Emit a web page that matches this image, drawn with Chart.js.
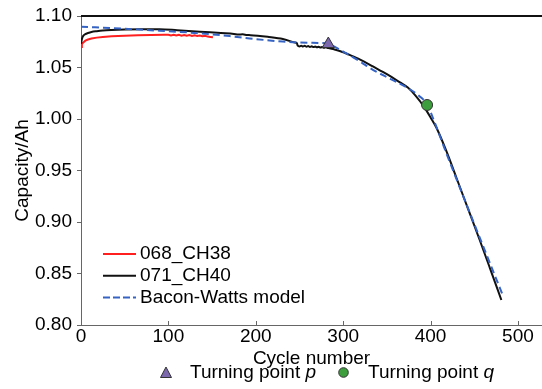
<!DOCTYPE html>
<html>
<head>
<meta charset="utf-8">
<script src="https://cdn.jsdelivr.net/npm/chart.js@4.4.1/dist/chart.umd.min.js"></script>
<style>
  html, body { margin: 0; padding: 0; background: #fff; }
  #wrap { width: 542px; height: 389px; position: relative; }
</style>
</head>
<body>
<div id="wrap"><canvas id="c" width="542" height="389"></canvas></div>
<script>
// ---- data ----
const redCycles = [0,1,2,3,5,8,12,18,25,35,50,65,80,95,100,103,106,109,112,115,118,121,124,127,130,133,136,139,142,145,148,151];
const redCap    = [1.0700,1.0725,1.0738,1.0746,1.0760,1.0772,1.0781,1.0790,1.0797,1.0803,1.0808,1.0813,1.0816,1.0818,1.0818,1.0811,1.0818,1.0810,1.0817,1.0809,1.0816,1.0808,1.0815,1.0807,1.0813,1.0805,1.0811,1.0803,1.0808,1.0800,1.0797,1.0793];

const blackCycles = [0,1,2,3,5,8,12,18,25,35,50,70,90,110,136,160,175,180,185,190,194,215,231,246,247,248,250,252,254,256,258,260,262,264,266,268,270,272,274,276,278,280,283,290,296,308,320,334,350,365,374,383,392,400,407,418,430,443,456,468,481];
const blackCap    = [1.0730,1.0775,1.0800,1.0812,1.0825,1.0835,1.0845,1.0853,1.0860,1.0865,1.0869,1.0871,1.0871,1.0862,1.0848,1.0834,1.0826,1.0820,1.0822,1.0815,1.0814,1.0796,1.0776,1.0740,1.0737,1.0712,1.0705,1.0711,1.0704,1.0710,1.0702,1.0708,1.0700,1.0706,1.0698,1.0704,1.0696,1.0702,1.0694,1.0699,1.0691,1.0696,1.0688,1.0675,1.0660,1.0620,1.0575,1.0510,1.0435,1.0355,1.0305,1.0225,1.0125,1.0015,0.9910,0.9690,0.9420,0.9125,0.8830,0.8550,0.8243];

const bwCycles = [0,50,90,136,170,193,231,260,283,290,308,319,334,355,373,388,396,405,418,443,483];
const bwCap    = [1.0896,1.0876,1.0857,1.0832,1.0805,1.0782,1.0752,1.0740,1.0733,1.0702,1.0615,1.0560,1.0478,1.0385,1.0305,1.0217,1.0140,0.9960,0.9670,0.9130,0.8280];

const turnP = {cycle: 283, cap: 1.0728};
const turnQ = {cycle: 396, cap: 1.0136};

const seriesNames = ['068_CH38', '071_CH40', 'Bacon-Watts model'];
const markerNames = ['Turning point ', 'Turning point '];
const markerVars  = ['p', 'q'];

const xTicks = [0,100,200,300,400,500];
const yTicks = [0.80,0.85,0.90,0.95,1.00,1.05,1.10];

const zip = (xs, ys) => xs.map((x, i) => ({x: x, y: ys[i]}));

const FONT = "'Liberation Sans', Arial, sans-serif";
const RED = '#ff1f1f', BLACK = '#111111', BLUE = '#3563c4';
const PURPLE = '#7c68ad', GREEN = '#3d9e3d';

const decorPlugin = {
  id: 'decor',
  afterDraw(chart) {
    const ctx = chart.ctx;
    const xs = chart.scales.x;
    const a = chart.chartArea;
    ctx.save();
    // inside x ticks
    ctx.strokeStyle = '#666';
    ctx.lineWidth = 1;
    xTicks.forEach(v => {
      const px = Math.round(xs.getPixelForValue(v)) + 0.5;
      ctx.beginPath(); ctx.moveTo(px, a.bottom); ctx.lineTo(px, a.bottom - 4); ctx.stroke();
    });
    // top frame line
    ctx.strokeStyle = '#111';
    ctx.lineWidth = 2;
    ctx.beginPath(); ctx.moveTo(a.left, a.top); ctx.lineTo(a.right, a.top); ctx.stroke();

    // in-plot legend
    ctx.font = '19px ' + FONT;
    ctx.textBaseline = 'middle';
    ctx.textAlign = 'left';
    ctx.fillStyle = '#000';
    const ly = [254, 275.7, 297.4];
    const cols = [RED, BLACK, BLUE];
    seriesNames.forEach((n, i) => {
      ctx.strokeStyle = cols[i];
      ctx.lineWidth = 2;
      ctx.setLineDash(i === 2 ? [7, 3] : []);
      ctx.beginPath(); ctx.moveTo(103, ly[i]); ctx.lineTo(136, ly[i]); ctx.stroke();
      ctx.setLineDash([]);
      ctx.fillText(n, 140, ly[i]);
    });

    // bottom legend
    const by = 373;
    ctx.fillStyle = PURPLE; ctx.strokeStyle = '#333'; ctx.lineWidth = 1;
    ctx.beginPath();
    ctx.moveTo(166, by - 6); ctx.lineTo(171.5, by + 4.5); ctx.lineTo(160.5, by + 4.5); ctx.closePath();
    ctx.fill(); ctx.stroke();
    ctx.fillStyle = GREEN;
    ctx.beginPath(); ctx.arc(343.5, by - 0.5, 4.8, 0, Math.PI * 2); ctx.fill(); ctx.stroke();
    ctx.fillStyle = '#000';
    const tx = [190, 368];
    markerNames.forEach((n, i) => {
      ctx.font = '19px ' + FONT;
      ctx.fillText(n, tx[i], by);
      const w = ctx.measureText(n).width;
      ctx.font = 'italic 19px ' + FONT;
      ctx.fillText(markerVars[i], tx[i] + w, by);
    });
    ctx.restore();
  }
};

new Chart(document.getElementById('c'), {
  type: 'line',
  data: {
    datasets: [
      { label: seriesNames[0], data: zip(redCycles, redCap), borderColor: RED, borderWidth: 2, pointRadius: 0, tension: 0, order: 4 },
      { label: seriesNames[1], data: zip(blackCycles, blackCap), borderColor: BLACK, borderWidth: 2, pointRadius: 0, cubicInterpolationMode: 'monotone', order: 3 },
      { label: seriesNames[2], data: zip(bwCycles, bwCap), borderColor: BLUE, borderWidth: 2, borderDash: [7, 4], pointRadius: 0, cubicInterpolationMode: 'monotone', order: 2 },
      { label: 'p', data: [{x: turnP.cycle, y: turnP.cap}], showLine: false, pointStyle: 'triangle', pointRadius: 7, backgroundColor: PURPLE, borderColor: '#333', borderWidth: 1, order: 1 },
      { label: 'q', data: [{x: turnQ.cycle, y: turnQ.cap}], showLine: false, pointStyle: 'circle', pointRadius: 5.5, backgroundColor: GREEN, borderColor: '#333', borderWidth: 1, order: 0 }
    ]
  },
  options: {
    responsive: false,
    animation: false,
    devicePixelRatio: 1,
    layout: { autoPadding: false, padding: { top: 16, right: 0, left: 0, bottom: 0 } },
    plugins: { legend: { display: false }, tooltip: { enabled: false } },
    scales: {
      x: {
        type: 'linear', min: 0, max: 527.5,
        afterFit(s) { s.height = 64; s.paddingLeft = 0; s.paddingRight = 0; },
        afterBuildTicks(s) { s.ticks = xTicks.map(v => ({value: v})); },
        grid: { display: false, drawTicks: false },
        border: { display: true, color: '#666', width: 1 },
        ticks: { font: { family: FONT, size: 19 }, color: '#000', padding: 0, maxRotation: 0 },
        title: { display: true, text: 'Cycle number', font: { family: FONT, size: 19 }, color: '#000', padding: { top: 0, bottom: 19 } }
      },
      y: {
        type: 'linear', min: 0.8, max: 1.1,
        afterFit(s) { s.width = 81; s.paddingTop = 0; s.paddingBottom = 0; },
        afterBuildTicks(s) { s.ticks = yTicks.map(v => ({value: v})); },
        grid: { display: true, drawOnChartArea: false, drawTicks: true, tickLength: 4, color: '#666' },
        border: { display: true, color: '#666', width: 1 },
        ticks: { font: { family: FONT, size: 19 }, color: '#000', padding: 5, callback: v => v.toFixed(2) },
        title: { display: true, text: 'Capacity/Ah', font: { family: FONT, size: 19 }, color: '#000', padding: { top: 11, bottom: 0 } }
      }
    }
  },
  plugins: [decorPlugin]
});
</script>
</body>
</html>
